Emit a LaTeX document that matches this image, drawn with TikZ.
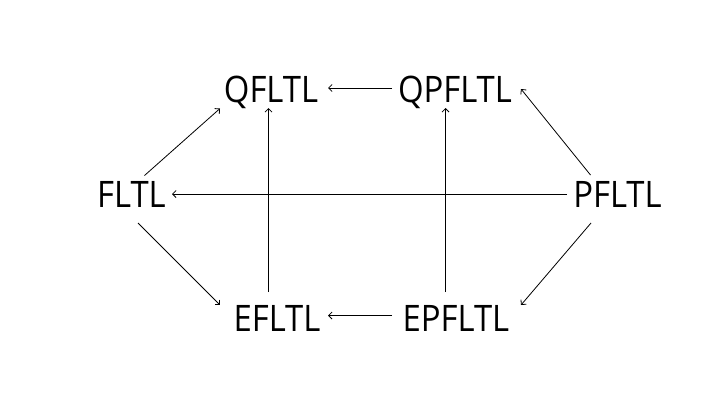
\documentclass[tikz,border=0pt]{standalone}
\usepackage{fontspec}
\setmainfont{Open Sans}
\usetikzlibrary{arrows.meta}
\newcommand{\nm}[1]{\scalebox{0.9}[1]{#1}}
\tikzset{
  lbl/.style={inner sep=0pt, outer sep=0pt, text height=26.5pt, text depth=0pt, font=\fontsize{36.5}{40}\selectfont},
  arr/.style={draw, line width=0.8pt, -{Straight Barb[length=3.5pt,width=7pt]}}
}
\begin{document}
\begin{tikzpicture}[x=1pt,y=-1pt]
\useasboundingbox[fill=white] (0,0) rectangle (720,405);
\node[lbl] (Q)  at (271,89)    {\nm{QFLTL}};
\node[lbl] (QP) at (455,89)    {\nm{QPFLTL}};
\node[lbl] (FL) at (131.5,194.5) {\nm{FLTL}};
\node[lbl] (PF) at (617.5,194.5) {\nm{PFLTL}};
\node[lbl] (EF) at (277,318.5) {\nm{EFLTL}};
\node[lbl] (EP) at (456,318.5) {\nm{EPFLTL}};
% arrows
\draw[arr] ([shift={(-63,-1)}]QP.center) -- ([shift={(57,-1)}]Q.center);
\draw[arr] ([shift={(13,-19)}]FL.center) -- ([shift={(-51,19.5)}]Q.center);
\draw[arr] ([shift={(-27,-19.5)}]PF.center) -- ([shift={(66,0)}]QP.center);
\draw[arr] ([shift={(-50.5,-0.5)}]PF.center) -- ([shift={(40.5,-0.5)}]FL.center);
\draw[arr] ([shift={(-8.5,-26.5)}]EF.center) -- ([shift={(-2.5,19)}]Q.center);
\draw[arr] ([shift={(-10.5,-26.5)}]EP.center) -- ([shift={(-9.5,19)}]QP.center);
\draw[arr] ([shift={(6.5,28.5)}]FL.center) -- ([shift={(-57,-13.5)}]EF.center);
\draw[arr] ([shift={(-26.5,28.5)}]PF.center) -- ([shift={(65,-13.5)}]EP.center);
\draw[arr] ([shift={(-64,-3)}]EP.center) -- ([shift={(51,-3)}]EF.center);
\end{tikzpicture}
\end{document}
